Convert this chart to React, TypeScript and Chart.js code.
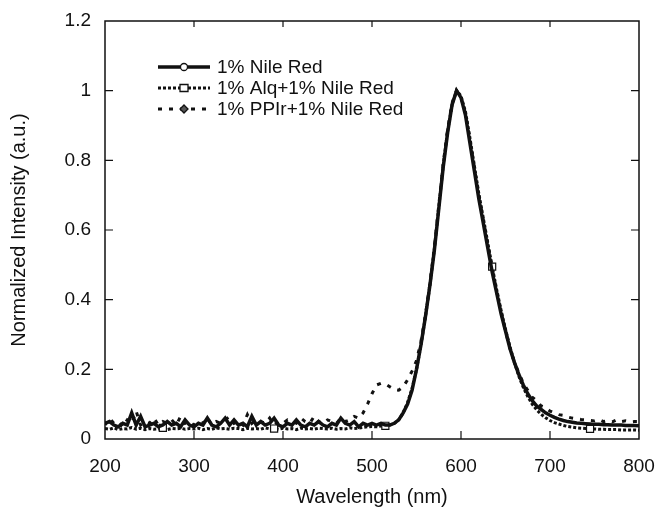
import React, { useEffect, useRef } from "react";
import { Chart, registerables } from "chart.js";

Chart.register(...registerables);

// Wavelength grid (nm)
const WAVELENGTH = [
  200, 205, 210, 215, 220, 225, 230, 235, 240, 245,
  250, 255, 260, 265, 270, 275, 280, 285, 290, 295,
  300, 305, 310, 315, 320, 325, 330, 335, 340, 345,
  350, 355, 360, 365, 370, 375, 380, 385, 390, 395,
  400, 405, 410, 415, 420, 425, 430, 435, 440, 445,
  450, 455, 460, 465, 470, 475, 480, 485, 490, 495,
  500, 505, 510, 515, 520, 525, 530, 535, 540, 545,
  550, 555, 560, 565, 570, 575, 580, 585, 590, 595,
  600, 605, 610, 615, 620, 625, 630, 635, 640, 645,
  650, 655, 660, 665, 670, 675, 680, 685, 690, 695,
  700, 705, 710, 715, 720, 725, 730, 735, 740, 745,
  750, 755, 760, 765, 770, 775, 780, 785, 790, 795,
  800,
];

// 1% Nile Red
const NILE_RED = [
  0.045, 0.05, 0.04, 0.035, 0.045, 0.04, 0.075, 0.04, 0.065, 0.035,
  0.04, 0.045, 0.035, 0.04, 0.05, 0.04, 0.045, 0.035, 0.055, 0.04,
  0.035, 0.045, 0.04, 0.06, 0.04, 0.035, 0.045, 0.06, 0.04, 0.055,
  0.04, 0.045, 0.035, 0.065, 0.04, 0.05, 0.04, 0.045, 0.06, 0.04,
  0.035, 0.045, 0.04, 0.055, 0.04, 0.035, 0.045, 0.04, 0.05, 0.04,
  0.035, 0.045, 0.04, 0.06, 0.045, 0.04, 0.05, 0.035, 0.045, 0.04,
  0.045, 0.04, 0.045, 0.04, 0.04, 0.045, 0.055, 0.075, 0.1, 0.14,
  0.2, 0.27, 0.35, 0.44, 0.54, 0.66, 0.78, 0.88, 0.96, 1.0,
  0.98, 0.93, 0.85, 0.77, 0.69, 0.62, 0.55, 0.48, 0.42, 0.36,
  0.31, 0.26, 0.22, 0.185, 0.155, 0.13, 0.11, 0.095, 0.085, 0.075,
  0.068, 0.062, 0.057, 0.053, 0.05, 0.048, 0.046, 0.045, 0.044, 0.043,
  0.042, 0.042, 0.041, 0.041, 0.04, 0.04, 0.04, 0.039, 0.039, 0.039,
  0.038,
];

// 1% Alq + 1% Nile Red
const ALQ_NILE_RED = [
  0.03, 0.028, 0.032, 0.027, 0.03, 0.029, 0.033, 0.028, 0.031, 0.027,
  0.03, 0.028, 0.029, 0.032, 0.027, 0.03, 0.029, 0.031, 0.028, 0.03,
  0.029, 0.031, 0.027, 0.03, 0.028, 0.032, 0.029, 0.03, 0.028, 0.031,
  0.03, 0.027, 0.031, 0.029, 0.03, 0.028, 0.032, 0.029, 0.03, 0.028,
  0.031, 0.029, 0.03, 0.027, 0.031, 0.029, 0.03, 0.028, 0.031, 0.03,
  0.029, 0.031, 0.028, 0.03, 0.029, 0.032, 0.03, 0.031, 0.033, 0.035,
  0.036, 0.035, 0.037, 0.038, 0.04, 0.045, 0.055, 0.075, 0.105, 0.145,
  0.2, 0.27, 0.35, 0.44, 0.545, 0.665, 0.785, 0.885, 0.96, 1.0,
  0.985, 0.94, 0.865, 0.785, 0.705, 0.635, 0.565, 0.495, 0.43, 0.37,
  0.315, 0.265, 0.22, 0.18, 0.148, 0.122, 0.1, 0.084, 0.071, 0.061,
  0.053, 0.047, 0.043, 0.039, 0.036, 0.034, 0.032, 0.031, 0.03, 0.029,
  0.029, 0.028, 0.028, 0.027, 0.027, 0.027, 0.026, 0.026, 0.026, 0.026,
  0.025,
];

// 1% PPIr + 1% Nile Red
const PPIR_NILE_RED = [
  0.04, 0.06, 0.045, 0.05, 0.035, 0.055, 0.045, 0.08, 0.04, 0.05,
  0.045, 0.06, 0.04, 0.05, 0.045, 0.055, 0.04, 0.065, 0.045, 0.05,
  0.04, 0.05, 0.045, 0.06, 0.04, 0.05, 0.045, 0.055, 0.065, 0.045,
  0.05, 0.04, 0.07, 0.045, 0.055, 0.05, 0.045, 0.06, 0.04, 0.05,
  0.045, 0.055, 0.05, 0.045, 0.06, 0.05, 0.045, 0.065, 0.05, 0.045,
  0.055, 0.05, 0.045, 0.06, 0.05, 0.055, 0.065, 0.06, 0.075, 0.1,
  0.13, 0.155, 0.16, 0.158, 0.15, 0.142, 0.14, 0.15, 0.17, 0.195,
  0.225, 0.28, 0.355, 0.445, 0.55, 0.67, 0.79, 0.89, 0.965, 1.0,
  0.98, 0.935, 0.86, 0.78, 0.7, 0.63, 0.56, 0.49, 0.425, 0.365,
  0.31, 0.26, 0.22, 0.19, 0.16, 0.14, 0.12, 0.11, 0.095, 0.09,
  0.08, 0.075, 0.07, 0.068, 0.063, 0.06, 0.058, 0.056, 0.055, 0.053,
  0.052, 0.056, 0.05, 0.053, 0.049, 0.055, 0.05, 0.052, 0.049, 0.05,
  0.05,
];

// wavelengths where the square symbols of the Alq series are drawn
const ALQ_MARKERS = [265, 390, 515, 635, 745];

const X_TICKS = [200, 300, 400, 500, 600, 700, 800];
const Y_TICKS = [0, 0.2, 0.4, 0.6, 0.8, 1, 1.2];

const FONT = "'Liberation Sans', Arial, sans-serif";
const INK = "#111";

const toXY = (ys: number[]) => WAVELENGTH.map((x, i) => ({ x, y: ys[i] }));

const framePlugin = {
  id: "frame",
  afterDraw(chart: any) {
    const { ctx, chartArea: a, scales } = chart;
    ctx.save();
    ctx.strokeStyle = INK;
    ctx.lineWidth = 1.5;
    ctx.strokeRect(a.left, a.top, a.right - a.left, a.bottom - a.top);
    ctx.lineWidth = 1.2;
    ctx.beginPath();
    X_TICKS.slice(1, -1).forEach((v) => {
      const px = scales.x.getPixelForValue(v);
      ctx.moveTo(px, a.bottom);
      ctx.lineTo(px, a.bottom - 8);
      ctx.moveTo(px, a.top);
      ctx.lineTo(px, a.top + 6);
    });
    Y_TICKS.slice(1, -1).forEach((v) => {
      const py = scales.y.getPixelForValue(v);
      ctx.moveTo(a.left, py);
      ctx.lineTo(a.left + 8, py);
      ctx.moveTo(a.right, py);
      ctx.lineTo(a.right - 8, py);
    });
    ctx.stroke();
    ctx.restore();
  },
};

function drawMarker(ctx: CanvasRenderingContext2D, style: string, x: number, y: number) {
  ctx.save();
  ctx.fillStyle = "#fff";
  ctx.strokeStyle = INK;
  ctx.lineWidth = 1.3;
  ctx.setLineDash([]);
  ctx.beginPath();
  if (style === "circle") {
    ctx.arc(x, y, 3.5, 0, Math.PI * 2);
    ctx.fill();
    ctx.stroke();
  } else if (style === "rect") {
    ctx.rect(x - 4, y - 3.5, 8, 7);
    ctx.fill();
    ctx.stroke();
  } else {
    ctx.moveTo(x, y - 4);
    ctx.lineTo(x + 4, y);
    ctx.lineTo(x, y + 4);
    ctx.lineTo(x - 4, y);
    ctx.closePath();
    ctx.fillStyle = "#555";
    ctx.fill();
    ctx.stroke();
  }
  ctx.restore();
}

const legendPlugin = {
  id: "insideLegend",
  afterDraw(chart: any) {
    const { ctx, chartArea: a } = chart;
    ctx.save();
    chart.data.datasets.forEach((ds: any, i: number) => {
      const y = a.top + 46 + i * 21;
      const x0 = a.left + 53;
      const x1 = a.left + 105;
      ctx.strokeStyle = INK;
      ctx.lineWidth = ds.borderWidth;
      ctx.setLineDash(ds.borderDash || []);
      ctx.beginPath();
      ctx.moveTo(x0, y);
      ctx.lineTo(x1, y);
      ctx.stroke();
      drawMarker(ctx, ds.legendMarker, (x0 + x1) / 2, y);
      ctx.setLineDash([]);
      ctx.fillStyle = INK;
      ctx.font = `19px ${FONT}`;
      ctx.textBaseline = "middle";
      ctx.textAlign = "left";
      ctx.fillText(ds.label, x1 + 7, y + 1);
    });
    ctx.restore();
  },
};

export default function App() {
  const ref = useRef<HTMLCanvasElement | null>(null);

  useEffect(() => {
    document.body.style.margin = "0";
    const canvas = ref.current;
    if (!canvas) return;
    const chart = new Chart(canvas, {
      type: "line",
      data: {
        datasets: [
          {
            label: "1% Nile Red",
            data: toXY(NILE_RED),
            borderColor: INK,
            borderWidth: 3.5,
            pointRadius: 0,
            legendMarker: "circle",
          } as any,
          {
            label: "1% Alq+1% Nile Red",
            data: toXY(ALQ_NILE_RED),
            borderColor: INK,
            borderWidth: 3,
            borderDash: [3, 2],
            pointStyle: "rect",
            pointRadius: (c: any) =>
              ALQ_MARKERS.includes(WAVELENGTH[c.dataIndex]) ? 5 : 0,
            pointBackgroundColor: "#fff",
            pointBorderColor: INK,
            pointBorderWidth: 1.2,
            legendMarker: "rect",
          } as any,
          {
            label: "1% PPIr+1% Nile Red",
            data: toXY(PPIR_NILE_RED),
            borderColor: INK,
            borderWidth: 3,
            borderDash: [4, 7],
            pointRadius: 0,
            legendMarker: "diamond",
          } as any,
        ],
      },
      options: {
        responsive: false,
        animation: false,
        events: [],
        layout: { padding: { top: 21, right: 16, left: 0, bottom: 0 } },
        plugins: { legend: { display: false }, tooltip: { enabled: false } },
        elements: { line: { tension: 0 } },
        scales: {
          x: {
            type: "linear",
            min: 200,
            max: 800,
            afterFit: (s: any) => {
              s.height = 71;
              s.paddingLeft = 0;
              s.paddingRight = 0;
            },
            afterBuildTicks: (s: any) => {
              s.ticks = X_TICKS.map((v) => ({ value: v }));
            },
            grid: { display: false, drawTicks: false },
            border: { display: false },
            ticks: {
              color: INK,
              font: { family: FONT, size: 19 },
              padding: 16,
              maxRotation: 0,
              autoSkip: false,
              callback: (v: any) => String(v),
            },
            title: {
              display: true,
              text: "Wavelength (nm)",
              color: INK,
              font: { family: FONT, size: 20 },
              padding: { top: 0, bottom: 1 },
            },
          },
          y: {
            type: "linear",
            min: 0,
            max: 1.2,
            afterFit: (s: any) => {
              s.width = 105;
              s.paddingTop = 0;
              s.paddingBottom = 0;
            },
            afterBuildTicks: (s: any) => {
              s.ticks = Y_TICKS.map((v) => ({ value: v }));
            },
            grid: { display: false, drawTicks: false },
            border: { display: false },
            ticks: {
              color: INK,
              font: { family: FONT, size: 19 },
              padding: 14,
              autoSkip: false,
              callback: (v: any) => String(v),
            },
            title: {
              display: true,
              text: "Normalized Intensity (a.u.)",
              color: INK,
              font: { family: FONT, size: 20 },
              padding: { top: 7, bottom: 0 },
            },
          },
        },
      },
      plugins: [framePlugin, legendPlugin],
    });
    return () => chart.destroy();
  }, []);

  return (
    <div style={{ position: "absolute", left: 0, top: 0, width: 655, height: 510, background: "#fff" }}>
      <canvas ref={ref} width={655} height={510} />
    </div>
  );
}
